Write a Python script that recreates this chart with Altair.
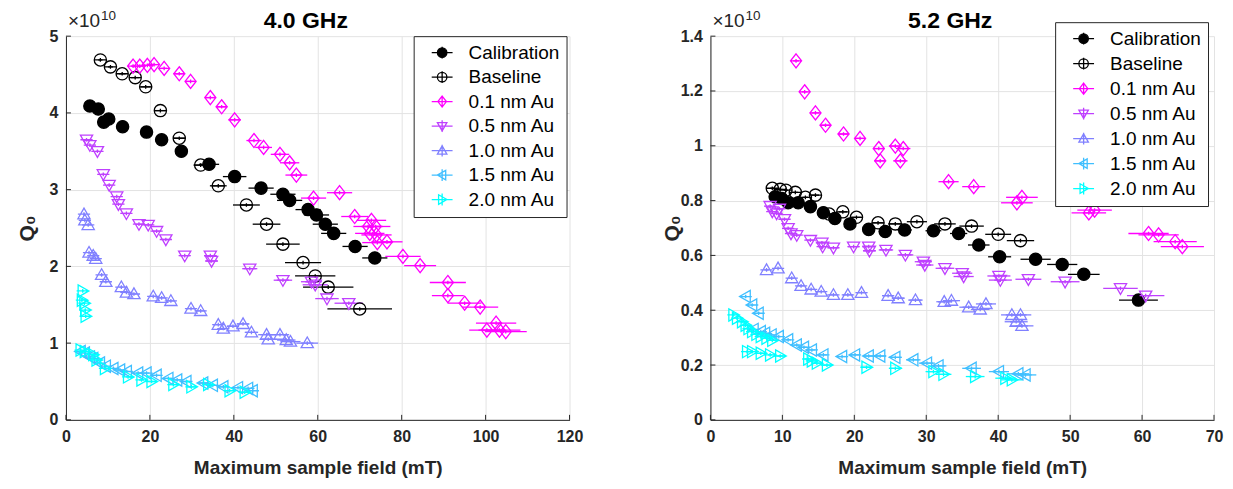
import altair as alt
import pandas as pd

SERIES = ["Calibration", "Baseline", "0.1 nm Au", "0.5 nm Au", "1.0 nm Au", "1.5 nm Au", "2.0 nm Au"]
COLORS = ["#000000", "#000000", "#FF00FF", "#BF40FF", "#8080FF", "#40BFFF", "#00FFFF"]
FILLS = ["#000000", "transparent", "transparent", "transparent", "transparent", "transparent", "transparent"]

# marker outlines (unit box -1..1)
CIRCLE = "M-1,0A1,1,0,1,0,1,0A1,1,0,1,0,-1,0Z"
DIAMOND = "M0,-1.15L0.9,0L0,1.15L-0.9,0Z"
TRI_DOWN = "M-1,-0.75L1,-0.75L0,1Z"
TRI_UP = "M-1,0.75L1,0.75L0,-1Z"
TRI_LEFT = "M0.75,-1L0.75,1L-1,0Z"
TRI_RIGHT = "M-0.75,-1L-0.75,1L1,0Z"
MARKERS = [CIRCLE, CIRCLE, DIAMOND, TRI_DOWN, TRI_UP, TRI_LEFT, TRI_RIGHT]
PLOT_CROSS = "M-1,0L1,0M0,-0.3L0,0.3"
LEG_CROSS = "M-2.2,0L2.2,0M0,-1.25L0,1.25"

# ---------------- 4.0 GHz (Q0 in units of 1e10) ----------------
cal4_x = [5.7, 7.7, 9.0, 10.2, 13.5, 19.2, 22.8, 27.5, 34.1, 40.2, 46.5, 51.7, 53.3, 57.7, 59.7, 61.8, 63.8, 68.9, 73.6]
cal4_y = [4.09, 4.05, 3.88, 3.92, 3.82, 3.75, 3.65, 3.50, 3.33, 3.17, 3.02, 2.94, 2.86, 2.74, 2.67, 2.55, 2.43, 2.26, 2.11]
cal4_e = [0.3, 0.4, 0.5, 0.5, 0.7, 1.0, 1.2, 1.5, 2.4, 2.8, 3.0, 3.0, 3.0, 3.0, 3.0, 3.0, 3.0, 3.0, 3.0]

base4_x = [8.2, 10.6, 13.4, 16.5, 19.0, 22.5, 27.0, 32.1, 36.3, 43.0, 47.8, 51.7, 56.5, 59.4, 62.5, 70.0]
base4_y = [4.69, 4.60, 4.51, 4.46, 4.34, 4.03, 3.67, 3.32, 3.05, 2.80, 2.55, 2.29, 2.05, 1.875, 1.73, 1.445]
base4_e = [0.5, 0.6, 0.8, 1.0, 1.2, 1.3, 1.5, 1.7, 2.0, 3.2, 3.3, 4.0, 4.3, 4.8, 6.0, 7.7]

au01_4_x = [16.0, 17.6, 19.4, 21.0, 23.4, 27.0, 29.7, 34.4, 37.1, 40.2, 44.8, 47.1, 51.0, 53.3, 54.9, 59.0, 65.2, 68.8,
            72.8, 72.0, 73.8, 72.4, 74.0, 74.2, 76.5, 80.3, 84.4, 91.0, 91.0, 95.0, 98.7, 102.5, 100.3, 103.3, 104.8]
au01_4_y = [4.61, 4.61, 4.62, 4.63, 4.58, 4.51, 4.41, 4.20, 4.08, 3.91, 3.64, 3.55, 3.46, 3.35, 3.19, 2.89, 2.96, 2.65,
            2.60, 2.52, 2.52, 2.43, 2.41, 2.31, 2.32, 2.13, 2.01, 1.79, 1.62, 1.52, 1.47, 1.26, 1.17, 1.17, 1.15]
au01_4_e = [0.5, 0.5, 0.6, 0.6, 0.7, 0.8, 0.9, 1.2, 1.3, 1.5, 1.8, 2.0, 2.2, 2.3, 2.6, 3.0, 3.0, 3.2,
            3.5, 3.5, 3.5, 3.5, 3.6, 3.6, 3.7, 4.2, 3.8, 4.3, 3.8, 4.0, 4.3, 4.8, 4.2, 5.0, 5.0]

au05_4_x = [4.9, 5.7, 7.5, 8.9, 10.3, 12.1, 12.5, 14.4, 17.4, 19.6, 21.6, 23.8, 28.3, 34.4, 34.7, 43.8, 51.7, 58.5, 59.4, 62.2, 67.4]
au05_4_y = [3.65, 3.58, 3.50, 3.20, 3.06, 2.91, 2.81, 2.69, 2.55, 2.54, 2.46, 2.35, 2.14, 2.14, 2.07, 1.97, 1.82, 1.80, 1.76, 1.58, 1.52]
au05_4_e = [0.3, 0.3, 0.4, 0.5, 0.5, 0.6, 0.6, 0.7, 0.8, 0.9, 1.0, 1.0, 1.2, 1.5, 1.5, 1.8, 2.2, 2.5, 3.0, 2.8, 3.4]

au10_4_x = [4.3, 4.5, 5.3, 5.5, 6.5, 7.1, 8.5, 9.5, 13.2, 14.4, 16.2, 20.8, 22.8, 25.0, 29.8, 32.1, 36.3, 37.5, 39.8,
            42.2, 44.2, 47.8, 48.2, 51.0, 52.5, 53.5, 57.5]
au10_4_y = [2.68, 2.60, 2.54, 2.18, 2.14, 2.10, 1.89, 1.80, 1.73, 1.66, 1.64, 1.61, 1.59, 1.55, 1.45, 1.42, 1.24, 1.19, 1.22,
            1.25, 1.14, 1.11, 1.05, 1.11, 1.04, 1.02, 1.00]
au10_4_e = [0.2, 0.2, 0.2, 0.3, 0.3, 0.3, 0.4, 0.4, 0.5, 0.5, 0.6, 0.7, 0.8, 0.9, 1.0, 1.1, 1.2, 1.3, 1.4,
            1.5, 1.6, 2.0, 2.0, 2.2, 2.2, 2.4, 2.6]

au15_4_x = [3.5, 4.5, 5.7, 6.5, 8.1, 9.5, 11.3, 12.9, 14.5, 17.2, 19.2, 21.6, 24.4, 26.5, 28.7, 32.7, 35.0, 37.5, 41.0, 43.4, 44.5]
au15_4_y = [0.89, 0.87, 0.82, 0.80, 0.74, 0.70, 0.67, 0.65, 0.63, 0.61, 0.61, 0.58, 0.54, 0.52, 0.50, 0.48, 0.45, 0.43, 0.42, 0.41, 0.38]
au15_4_e = [0.2, 0.2, 0.3, 0.3, 0.3, 0.4, 0.4, 0.5, 0.5, 0.6, 0.7, 0.7, 0.8, 0.9, 1.0, 1.1, 1.2, 1.3, 1.4, 1.5, 1.5]

au20_4_x = [4.0, 3.8, 4.4, 4.6, 4.7, 3.5, 4.5, 6.5, 7.3, 9.3, 14.8, 18.0, 20.4, 25.6, 29.9, 33.9, 39.0, 42.6]
au20_4_y = [1.68, 1.56, 1.52, 1.43, 1.35, 0.91, 0.89, 0.85, 0.78, 0.67, 0.56, 0.52, 0.50, 0.46, 0.43, 0.46, 0.38, 0.36]
au20_4_e = [0.2, 0.2, 0.2, 0.2, 0.2, 0.2, 0.2, 0.3, 0.3, 0.4, 0.5, 0.6, 0.7, 0.9, 1.0, 1.1, 1.3, 1.4]

# ---------------- 5.2 GHz (Q0 in units of 1e10) ----------------
cal5_x = [9.0, 9.9, 10.8, 12.2, 13.9, 15.7, 17.3, 19.4, 22.0, 24.3, 27.0, 31.0, 34.5, 37.3, 40.2, 45.2, 48.9, 51.9, 59.5]
cal5_y = [0.814, 0.808, 0.792, 0.792, 0.778, 0.756, 0.735, 0.715, 0.695, 0.687, 0.693, 0.690, 0.680, 0.638, 0.595, 0.586, 0.567, 0.531, 0.437]
cal5_e = [0.3, 0.3, 0.4, 0.4, 0.5, 0.5, 0.6, 0.7, 0.8, 0.9, 1.0, 1.1, 1.2, 1.5, 1.6, 2.1, 2.1, 2.2, 2.7]

base5_x = [8.6, 9.7, 10.5, 11.8, 13.2, 14.6, 16.5, 18.4, 20.3, 23.3, 25.7, 28.7, 32.6, 36.3, 40.0, 43.1]
base5_y = [0.845, 0.841, 0.838, 0.830, 0.812, 0.820, 0.751, 0.759, 0.739, 0.719, 0.715, 0.723, 0.715, 0.707, 0.677, 0.654]
base5_e = [0.3, 0.3, 0.3, 0.4, 0.4, 0.5, 0.5, 0.6, 0.7, 0.8, 1.0, 1.4, 1.5, 1.7, 1.8, 1.9]

au01_5_x = [11.9, 13.1, 14.6, 16.0, 18.5, 20.8, 23.4, 23.6, 25.7, 26.8, 26.4, 33.1, 36.6, 42.6, 43.3, 52.6, 53.4, 60.9, 62.3, 64.6, 65.6]
au01_5_y = [1.310, 1.197, 1.120, 1.075, 1.043, 1.027, 0.990, 0.945, 0.999, 0.990, 0.945, 0.869, 0.851, 0.792, 0.812, 0.755, 0.765, 0.680, 0.675, 0.650, 0.632]
au01_5_e = [0.4, 0.4, 0.5, 0.5, 0.6, 0.7, 0.8, 0.8, 0.9, 1.0, 1.0, 1.4, 1.6, 2.2, 2.2, 2.4, 2.4, 2.8, 2.8, 3.0, 3.0]

au05_5_x = [8.3, 8.6, 9.2, 9.6, 10.3, 10.8, 11.2, 12.0, 13.9, 15.5, 15.6, 17.1, 19.9, 22.0, 22.1, 24.4, 27.1, 29.6, 29.8,
            32.6, 35.0, 35.2, 40.1, 40.3, 44.2, 49.3, 57.0, 60.5]
au05_5_y = [0.780, 0.760, 0.753, 0.770, 0.732, 0.699, 0.680, 0.674, 0.656, 0.646, 0.632, 0.628, 0.632, 0.632, 0.617, 0.620,
            0.602, 0.577, 0.565, 0.553, 0.535, 0.523, 0.525, 0.510, 0.513, 0.504, 0.480, 0.453]
au05_5_e = [0.3, 0.3, 0.3, 0.3, 0.4, 0.4, 0.4, 0.5, 0.5, 0.6, 0.6, 0.7, 0.8, 0.9, 0.9, 1.0, 1.1, 1.2, 1.2,
            1.3, 1.4, 1.4, 1.6, 1.6, 1.8, 2.0, 2.4, 2.6]

au10_5_x = [7.8, 9.4, 11.3, 12.6, 14.0, 15.4, 17.1, 19.1, 21.0, 24.7, 26.1, 28.5, 32.5, 33.5, 35.9, 37.5, 38.3, 41.9, 43.1, 42.5, 43.3]
au10_5_y = [0.547, 0.553, 0.517, 0.489, 0.476, 0.468, 0.456, 0.456, 0.464, 0.453, 0.444, 0.437, 0.431, 0.435, 0.411, 0.403,
            0.423, 0.383, 0.383, 0.358, 0.343]
au10_5_e = [0.3, 0.3, 0.4, 0.4, 0.5, 0.5, 0.6, 0.7, 0.7, 0.8, 0.9, 1.0, 1.1, 1.2, 1.3, 1.3, 1.4, 1.5, 1.5, 1.6, 1.6]

au15_5_x = [4.9, 5.8, 6.7, 6.0, 7.0, 7.6, 8.5, 9.5, 10.8, 12.0, 13.0, 14.1, 15.7, 18.3, 20.1, 22.0, 23.6, 25.7, 28.2, 30.1,
            31.7, 36.3, 40.1, 42.8, 43.8]
au15_5_y = [0.450, 0.419, 0.389, 0.330, 0.322, 0.316, 0.310, 0.304, 0.292, 0.273, 0.265, 0.255, 0.237, 0.231, 0.237, 0.233,
            0.233, 0.228, 0.219, 0.207, 0.197, 0.188, 0.176, 0.168, 0.164]
au15_5_e = [0.2, 0.2, 0.2, 0.2, 0.3, 0.3, 0.3, 0.3, 0.4, 0.4, 0.4, 0.5, 0.5, 0.6, 0.7, 0.8, 0.8, 0.9, 1.0, 1.1,
            1.1, 1.3, 1.4, 1.5, 1.5]

au20_5_x = [3.2, 3.7, 4.4, 4.9, 5.3, 5.8, 6.4, 7.0, 7.8, 8.6, 5.1, 5.8, 7.0, 8.3, 9.7, 13.6, 14.1, 14.8, 16.2, 21.7, 25.7,
            31.0, 32.4, 36.8, 41.0, 41.9]
au20_5_y = [0.383, 0.371, 0.358, 0.345, 0.333, 0.322, 0.312, 0.304, 0.298, 0.290, 0.249, 0.249, 0.243, 0.237, 0.233, 0.222,
            0.215, 0.207, 0.200, 0.192, 0.188, 0.176, 0.166, 0.158, 0.152, 0.146]
au20_5_e = [0.2, 0.2, 0.2, 0.2, 0.2, 0.2, 0.3, 0.3, 0.3, 0.3, 0.2, 0.2, 0.3, 0.3, 0.4, 0.5, 0.5, 0.5, 0.6, 0.8, 0.9,
            1.1, 1.1, 1.3, 1.4, 1.5]

X_TICKS_4 = [0, 20, 40, 60, 80, 100, 120]
Y_TICKS_4 = [0, 1, 2, 3, 4, 5]
X_TICKS_5 = [0, 10, 20, 30, 40, 50, 60, 70]
Y_TICKS_5 = [0, 0.2, 0.4, 0.6, 0.8, 1.0, 1.2, 1.4]

FONT = "Liberation Sans"
W, H = 504, 384


def make_df(groups):
    rows = []
    for i, (xs, ys, es) in enumerate(groups):
        for x, y, e in zip(xs, ys, es):
            rows.append({"series": SERIES[i], "x": x, "y": y, "xlo": x - e, "xhi": x + e,
                         "col": COLORS[i], "fil": FILLS[i], "shp": MARKERS[i] + PLOT_CROSS, "ord": i})
    return pd.DataFrame(rows)


def panel(df, xdom, ydom, xticks, yticks, yfmt, title, legx, legy, rowpad):
    xs = alt.Scale(domain=xdom, nice=False, zero=False)
    ys = alt.Scale(domain=ydom, nice=False, zero=False)
    xax = alt.Axis(values=xticks, title="Maximum sample field (mT)", ticks=False, labelFontSize=16,
                   labelFontWeight="bold", labelPadding=9, labelFlush=False, titleFontSize=19,
                   titleFontWeight="bold", titlePadding=14, format="d")
    yax = alt.Axis(values=yticks, title="Q₀", ticks=False, labelFontSize=16, labelFontWeight="bold",
                   labelPadding=8, labelFlush=False, format=yfmt,
                   titleFontSize=21, titleFontWeight="bold", titleAngle=270, titleX=-38, titleY=H / 2,
                   titleAlign="center", titleBaseline="middle")
    bars = alt.Chart(df).mark_rule(strokeWidth=1.3).encode(
        x=alt.X("xlo:Q", scale=xs, axis=xax), x2="xhi:Q",
        y=alt.Y("y:Q", scale=ys, axis=yax),
        stroke=alt.Stroke("col:N", scale=None),
    )
    pts = alt.Chart(df).mark_point(opacity=1, strokeWidth=1.3, size=150).encode(
        x=alt.X("x:Q", scale=xs), y=alt.Y("y:Q", scale=ys),
        stroke=alt.Stroke("col:N", scale=None),
        fill=alt.Fill("fil:N", scale=None),
        shape=alt.Shape("shp:N", scale=None),
        order=alt.Order("ord:Q"),
    )
    leg = alt.Legend(title=None, orient="none", legendX=legx, legendY=legy, labelFont=FONT, labelFontSize=19,
                     labelColor="black", symbolSize=90, symbolStrokeWidth=1.3, padding=7, rowPadding=rowpad,
                     strokeColor="#262626", fillColor="white", symbolOffset=12, labelOffset=17, labelLimit=0,
                     cornerRadius=0)
    legdf = pd.DataFrame({"series": SERIES, "x": [xdom[0] - 1000] * 7, "y": [ydom[0]] * 7})
    legpts = alt.Chart(legdf).mark_point(opacity=1, strokeWidth=1.3, clip=True).encode(
        x=alt.X("x:Q", scale=xs), y=alt.Y("y:Q", scale=ys),
        stroke=alt.Stroke("series:N", scale=alt.Scale(domain=SERIES, range=COLORS), legend=leg),
        fill=alt.Fill("series:N", scale=alt.Scale(domain=SERIES, range=FILLS), legend=leg),
        shape=alt.Shape("series:N", scale=alt.Scale(domain=SERIES, range=[m + LEG_CROSS for m in MARKERS]), legend=leg),
    )
    tdf = pd.DataFrame({"v": xticks})
    xt = alt.Chart(tdf).mark_rule(color="#262626", strokeWidth=1).encode(
        x=alt.X("v:Q", scale=xs), y=alt.value(H), y2=alt.value(H - 5))
    ydf = pd.DataFrame({"v": yticks})
    yt = alt.Chart(ydf).mark_rule(color="#262626", strokeWidth=1).encode(
        y=alt.Y("v:Q", scale=ys), x=alt.value(0), x2=alt.value(5))
    mult = alt.Chart(pd.DataFrame({"t": ["×10"]})).mark_text(
        align="left", baseline="alphabetic", fontSize=19, font=FONT, color="#262626").encode(
        text="t:N", x=alt.value(2), y=alt.value(-9))
    sup = alt.Chart(pd.DataFrame({"t": ["10"]})).mark_text(
        align="left", baseline="alphabetic", fontSize=13.5, font=FONT, color="#262626").encode(
        text="t:N", x=alt.value(35), y=alt.value(-16))
    ttl = alt.Chart(pd.DataFrame({"t": [title]})).mark_text(
        align="center", baseline="middle", fontSize=23, fontWeight="bold", font=FONT, color="black").encode(
        text="t:N", x=alt.value(W / 2 - 12), y=alt.value(-15))
    return alt.layer(bars, pts, legpts, xt, yt, mult, sup, ttl).properties(width=W, height=H)


df4 = make_df([(cal4_x, cal4_y, cal4_e), (base4_x, base4_y, base4_e), (au01_4_x, au01_4_y, au01_4_e),
               (au05_4_x, au05_4_y, au05_4_e), (au10_4_x, au10_4_y, au10_4_e), (au15_4_x, au15_4_y, au15_4_e),
               (au20_4_x, au20_4_y, au20_4_e)])
df5 = make_df([(cal5_x, cal5_y, cal5_e), (base5_x, base5_y, base5_e), (au01_5_x, au01_5_y, au01_5_e),
               (au05_5_x, au05_5_y, au05_5_e), (au10_5_x, au10_5_y, au10_5_e), (au15_5_x, au15_5_y, au15_5_e),
               (au20_5_x, au20_5_y, au20_5_e)])

left = panel(df4, [0, 120], [0, 5], X_TICKS_4, Y_TICKS_4, "d", "4.0 GHz", 348, 0, 4.5)
right = panel(df5, [0, 70], [0, 1.4], X_TICKS_5, Y_TICKS_5, ".1~f", "5.2 GHz", 345, -14, 5.0)

chart = alt.hconcat(left, right, spacing=78).resolve_scale(
    stroke="independent", fill="independent", shape="independent", x="independent", y="independent"
).resolve_legend(stroke="independent", fill="independent", shape="independent").configure(
    font=FONT, padding={"left": 9, "top": 1, "right": 2, "bottom": 2}
).configure_view(stroke=None).configure_axis(
    labelFont=FONT, titleFont=FONT, labelColor="#262626", titleColor="#262626", domainColor="#262626",
    domainWidth=1, gridColor="#e3e3e3", gridWidth=1
)

chart.save("out.html", embed_options={"renderer": "svg", "actions": False})
